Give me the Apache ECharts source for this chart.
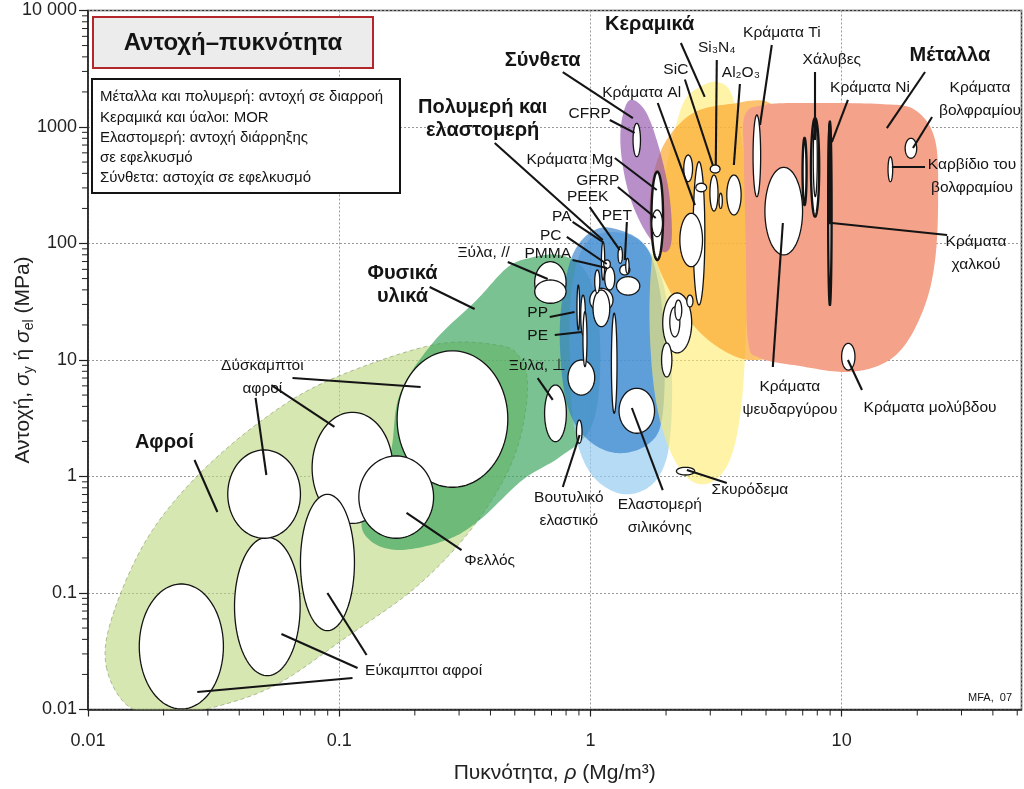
<!DOCTYPE html>
<html><head><meta charset="utf-8">
<script src="https://cdn.jsdelivr.net/npm/echarts@6/dist/echarts.min.js"></script>
<style>html,body{margin:0;padding:0;background:#fff}#c{width:1024px;height:789px}</style>
</head><body><div id="c"></div>
<script>
// ---------------- DATA ----------------
const X_RANGE = [0.01, 52];          // density, Mg/m3
const Y_RANGE = [0.01, 10000];       // strength, MPa
const xTickLabels = ['0.01', '0.1', '1', '10'];
const yTickLabels = ['0.01', '0.1', '1', '10', '100', '1000', '10 000'];
const minorSteps = [2, 3, 4, 5, 6, 7, 8, 9];

// Material property bubbles: [name, rho_min, rho_max, sigma_min, sigma_max]
const foamBubbles = [
  ['Εύκαμπτοι αφροί 1', 0.0160, 0.0346, 0.0101, 0.1195],
  ['Εύκαμπτοι αφροί 2', 0.0383, 0.0699, 0.0195, 0.301],
  ['Δύσκαμπτοι αφροί 1', 0.036, 0.0701, 0.295, 1.69],
  ['Δύσκαμπτοι αφροί 2', 0.078, 0.1635, 0.396, 3.56],
  ['Εύκαμπτοι αφροί 3', 0.0701, 0.115, 0.0475, 0.703],
  ['Δύσκαμπτοι αφροί 3', 0.170, 0.469, 0.808, 12.0],
  ['Φελλός', 0.1197, 0.2375, 0.295, 1.50]
];
const naturalBubbles = [
  ['Ξύλα, //', 0.60, 0.80, 30.7, 69.8],
  ['Ξύλα, // (b)', 0.60, 0.80, 30.7, 48.6],
  ['Ξύλα, ⊥', 0.657, 0.802, 1.99, 6.1]
];
const polymerBubbles = [
  ['EVA', 0.814, 1.04, 5.0, 10.0],
  ['PP', 0.884, 0.906, 18.1, 44],
  ['PE', 0.915, 0.955, 16.4, 36.1],
  ['LDPE', 0.934, 0.969, 8.76, 26],
  ['ABS', 0.994, 1.23, 26, 41.3],
  ['PS', 1.024, 1.194, 19.3, 39.9],
  ['PC', 1.04, 1.09, 37.6, 59.3],
  ['PU', 1.14, 1.25, 39.9, 63.2],
  ['PA', 1.106, 1.14, 48.6, 103.6],
  ['PMMA', 1.13, 1.20, 61.2, 72.2],
  ['PTFE', 1.27, 1.572, 36.1, 51.9],
  ['Epoxy', 1.309, 1.435, 53.7, 65.4],
  ['PEEK', 1.288, 1.341, 67.6, 93.9],
  ['PET', 1.382, 1.425, 55.5, 74.6],
  ['Ionomer', 1.212, 1.276, 3.49, 25.2]
];
const elastomerBubbles = [
  ['Βουτυλικό ελαστικό', 0.88, 0.926, 1.93, 3.05],
  ['Ελαστομερή σιλικόνης', 1.30, 1.80, 2.35, 5.72]
];
const compositeBubbles = [
  ['CFRP', 1.478, 1.582, 556, 1076],
  ['Κράματα Mg', 1.75, 1.946, 72.2, 413],
  ['GFRP', 1.755, 1.936, 114.4, 194]
];
const ceramicBubbles = [
  ['Ύαλος', 1.94, 2.53, 11.5, 37.6],
  ['Ύαλος b', 2.07, 2.27, 15.8, 28.5],
  ['Ύαλος c', 2.17, 2.31, 22.0, 32.7],
  ['Πέτρα', 1.92, 2.11, 7.15, 14.0],
  ['Τούβλο', 2.42, 2.56, 28.5, 36.1],
  ['Σκυρόδεμα', 2.20, 2.60, 1.03, 1.20],
  ['Κράματα Al', 2.564, 2.854, 29.7, 504],
  ['B4C', 2.353, 2.55, 339, 575],
  ['AlN', 2.628, 2.90, 278, 329],
  ['Χυτά Al', 2.27, 2.794, 63.2, 181.6],
  ['SiC', 2.99, 3.22, 190, 387],
  ['Si3N4', 3.0, 3.28, 403, 472],
  ['Al2O3', 3.49, 3.98, 176, 387],
  ['ZrO2', 3.25, 3.35, 200, 270]
];
const metalBubbles = [
  ['Κράματα Ti', 4.44, 4.76, 252, 1268],
  ['Κράματα ψευδαργύρου', 4.95, 6.99, 79.7, 451],
  ['Χυτοσίδηρος', 6.99, 7.25, 214, 805],
  ['Χάλυβες', 7.55, 8.14, 170, 1195],
  ['Χάλυβες (b)', 7.71, 8.0, 252, 1148],
  ['Κράματα χαλκού', 8.84, 9.12, 29.7, 1111],
  ['Κράματα Ni', 8.88, 9.05, 150, 1050],
  ['Κράματα μολύβδου', 10.0, 11.3, 8.2, 13.9],
  ['Καρβίδιο του βολφραμίου', 15.3, 15.97, 339, 556],
  ['Κράματα βολφραμίου', 17.9, 19.9, 539, 800]
];

// Family envelopes: outline control points as [log10(rho), log10(sigma)]
const foamEnvelope = [[-1.927,-1.635],[-1.835,-1.979],[-1.664,-2.030],[-1.465,-1.961],[-1.238,-1.773],[-0.971,-1.378],[-0.708,-0.974],[-0.509,-0.545],[-0.361,-0.090],[-0.282,0.313],[-0.250,0.768],[-0.282,1.026],[-0.373,1.129],[-0.628,1.129],[-1.039,0.828],[-1.306,0.485],[-1.569,-0.004],[-1.768,-0.545],[-1.904,-1.206]];
const naturalEnvelope = [[-0.453,1.515],[-0.628,1.146],[-0.760,0.700],[-0.800,0.167],[-0.907,-0.330],[-0.879,-0.545],[-0.760,-0.631],[-0.573,-0.545],[-0.441,-0.373],[-0.270,-0.030],[-0.122,0.167],[-0.003,0.399],[0.037,0.828],[0.029,1.429],[-0.023,1.773],[-0.122,1.901],[-0.242,1.876],[-0.333,1.790]];
const elastomerEnvelope = [[0.085,2.099],[-0.023,1.987],[-0.075,1.601],[-0.082,1.000],[-0.063,0.399],[-0.003,0.039],[0.097,-0.133],[0.196,-0.133],[0.276,0.013],[0.316,0.313],[0.324,0.914],[0.296,1.601],[0.216,1.987]];
const polymerEnvelope = [[0.085,2.133],[-0.003,2.090],[-0.071,1.901],[-0.110,1.558],[-0.122,1.172],[-0.102,0.700],[-0.051,0.416],[0.037,0.245],[0.137,0.202],[0.236,0.288],[0.284,0.485],[0.296,1.000],[0.276,1.601],[0.216,1.987]];
const ceramicEnvelope = [[0.503,3.386],[0.435,3.343],[0.376,3.232],[0.336,2.974],[0.284,2.459],[0.244,1.858],[0.236,1.258],[0.260,0.657],[0.316,0.227],[0.396,-0.030],[0.483,-0.047],[0.555,0.142],[0.599,0.571],[0.619,1.258],[0.623,2.116],[0.607,2.803],[0.563,3.275]];
const techCeramicEnvelope = [[0.236,2.373],[0.260,2.674],[0.316,2.931],[0.416,3.129],[0.555,3.197],[0.714,3.206],[0.794,2.888],[0.802,1.858],[0.746,1.129],[0.635,1.000],[0.495,1.129],[0.376,1.386],[0.284,1.730],[0.240,2.030]];
const metalEnvelope = [[0.615,3.103],[0.694,3.189],[0.834,3.206],[1.153,3.197],[1.292,3.146],[1.372,2.888],[1.384,2.373],[1.372,1.858],[1.332,1.472],[1.252,1.129],[1.153,0.957],[1.013,0.897],[0.834,0.948],[0.675,1.017],[0.627,1.172],[0.619,1.944],[0.611,2.717]];
const compositeEnvelope = [[0.157,3.232],[0.125,3.060],[0.121,2.803],[0.149,2.459],[0.204,2.159],[0.276,1.944],[0.316,1.961],[0.324,2.159],[0.308,2.502],[0.264,2.888],[0.216,3.146]];

// Annotations: text and anchor as [log10(rho), log10(sigma)]
const familyLabels = [
  ['Αφροί', -1.696, 0.288],
  ['Φυσικά\nυλικά', -0.748, 1.648],
  ['Πολυμερή και\nελαστομερή', -0.429, 3.069],
  ['Σύνθετα', -0.190, 3.567],
  ['Κεραμικά', 0.236, 3.876],
  ['Μέταλλα', 1.431, 3.618]
];
const materialLabels = [
  ['Δύσκαμπτοι\nαφροί', -1.306, 0.854],
  ['Εύκαμπτοι αφροί', -0.664, -1.670],
  ['Φελλός', -0.401, -0.725],
  ['Ξύλα, //', -0.425, 1.918],
  ['PMMA', -0.170, 1.910],
  ['PC', -0.158, 2.064],
  ['PA', -0.114, 2.227],
  ['PEEK', -0.011, 2.399],
  ['PET', 0.105, 2.236],
  ['GFRP', 0.029, 2.536],
  ['Κράματα Mg', -0.082, 2.717],
  ['CFRP', -0.003, 3.112],
  ['Κράματα Al', 0.204, 3.292],
  ['SiC', 0.340, 3.489],
  ['Si₃N₄', 0.503, 3.678],
  ['Al₂O₃', 0.599, 3.464],
  ['Κράματα Ti', 0.762, 3.807],
  ['Χάλυβες', 0.961, 3.575],
  ['Κράματα Ni', 1.113, 3.335],
  ['Κράματα\nβολφραμίου', 1.551, 3.240],
  ['Καρβίδιο του\nβολφραμίου', 1.519, 2.575],
  ['Κράματα\nχαλκού', 1.535, 1.918],
  ['PP', -0.210, 1.403],
  ['PE', -0.210, 1.206],
  ['Ξύλα, ⊥', -0.210, 0.948],
  ['Κράματα\nψευδαργύρου', 0.794, 0.670],
  ['Κράματα μολύβδου', 1.352, 0.588],
  ['Σκυρόδεμα', 0.635, -0.116],
  ['Βουτυλικό\nελαστικό', -0.086, -0.283],
  ['Ελαστομερή\nσιλικόνης', 0.276, -0.343]
];
const creditLabel = ['MFA,  07', 1.591, -1.901];
// Leader lines: [[log10 rho1, log10 sigma1], [log10 rho2, log10 sigma2]]
const leaderLines = [
  [[-1.576,0.142],[-1.485,-0.305]],
  [[-1.186,0.845],[-0.676,0.768]],
  [[-1.270,0.785],[-1.019,0.425]],
  [[-1.333,0.674],[-1.290,0.013]],
  [[-0.947,-1.730],[-1.565,-1.850]],
  [[-0.927,-1.644],[-1.230,-1.352]],
  [[-0.891,-1.532],[-1.047,-1.000]],
  [[-0.513,-0.631],[-0.732,-0.313]],
  [[-0.640,1.627],[-0.461,1.438]],
  [[-0.329,1.841],[-0.170,1.695]],
  [[-0.162,1.369],[-0.063,1.412]],
  [[-0.142,1.215],[-0.035,1.240]],
  [[-0.210,0.845],[-0.150,0.657]],
  [[-0.110,-0.090],[-0.043,0.356]],
  [[0.288,-0.116],[0.165,0.588]],
  [[0.384,0.056],[0.543,-0.056]],
  [[-0.071,1.858],[0.065,1.790]],
  [[-0.094,2.056],[0.065,1.824]],
  [[-0.071,2.185],[0.049,2.013]],
  [[-0.003,2.313],[0.117,1.944]],
  [[0.145,2.185],[0.137,1.858]],
  [[0.109,2.485],[0.260,2.219]],
  [[0.097,2.734],[0.264,2.459]],
  [[-0.381,2.863],[0.049,2.030]],
  [[0.077,3.060],[0.176,2.949]],
  [[-0.110,3.472],[0.169,3.077]],
  [[0.360,3.721],[0.455,3.258]],
  [[0.376,3.408],[0.487,2.674]],
  [[0.503,3.575],[0.499,2.674]],
  [[0.595,3.369],[0.571,2.674]],
  [[0.268,3.206],[0.416,2.330]],
  [[0.722,3.704],[0.675,3.017]],
  [[0.894,3.472],[0.894,2.888]],
  [[1.025,3.232],[0.961,2.871]],
  [[1.332,3.472],[1.180,2.991]],
  [[1.360,3.086],[1.284,2.820]],
  [[1.200,2.657],[1.332,2.657]],
  [[0.961,2.176],[1.420,2.073]],
  [[0.766,2.176],[0.726,0.940]],
  [[1.025,1.000],[1.081,0.742]]
];
const noteLines = [
  'Μέταλλα και πολυμερή: αντοχή σε διαρροή',
  'Κεραμικά και ύαλοι: MOR',
  'Ελαστομερή: αντοχή διάρρηξης',
  'σε εφελκυσμό',
  'Σύνθετα: αστοχία σε εφελκυσμό'
];
const chartTitle = 'Αντοχή–πυκνότητα';

// ---------------- STYLE ----------------
const FONT = '"Liberation Sans", Arial, sans-serif';
const INK = '#141414';
const envelopes = [
  { pts: foamEnvelope, fill: 'rgba(190,216,130,0.62)', stroke: 'rgba(120,140,90,0.55)', dash: [4, 3] },
  { pts: naturalEnvelope, fill: 'rgba(60,165,95,0.68)' },
  { pts: elastomerEnvelope, fill: 'rgba(150,205,240,0.7)' },
  { pts: polymerEnvelope, fill: 'rgba(40,120,200,0.62)' },
  { pts: ceramicEnvelope, fill: 'rgba(255,235,110,0.6)' },
  { pts: techCeramicEnvelope, fill: 'rgba(250,165,40,0.68)' },
  { pts: metalEnvelope, fill: 'rgb(244,162,138)' },
  { pts: compositeEnvelope, fill: 'rgba(150,90,175,0.68)' }
];
const thickOutline = new Set(['Κράματα Mg', 'Χάλυβες', 'Κράματα χαλκού', 'Κράματα Ni', 'Χυτοσίδηρος']);

const toData = p => [Math.pow(10, p[0]), Math.pow(10, p[1])];

function smoothClosed(pts, n) {
  const out = [], m = pts.length;
  for (let i = 0; i < m; i++) {
    const p0 = pts[(i - 1 + m) % m], p1 = pts[i], p2 = pts[(i + 1) % m], p3 = pts[(i + 2) % m];
    for (let k = 0; k < n; k++) {
      const t = k / n, t2 = t * t, t3 = t2 * t;
      out.push([0, 1].map(d => 0.5 * (2 * p1[d] + (-p0[d] + p2[d]) * t +
        (2 * p0[d] - 5 * p1[d] + 4 * p2[d] - p3[d]) * t2 +
        (-p0[d] + 3 * p1[d] - 3 * p2[d] + p3[d]) * t3)));
    }
  }
  return out;
}

const envelopeSeries = {
  type: 'custom', coordinateSystem: 'cartesian2d', clip: true, silent: true, z: 2,
  data: envelopes.map((e, i) => [1, 1, i]), encode: { x: 0, y: 1 },
  renderItem: (params, api) => {
    const e = envelopes[params.dataIndex];
    const px = e.pts.map(p => api.coord(toData(p)));
    return { type: 'polygon', shape: { points: smoothClosed(px, 14) },
      style: { fill: e.fill, stroke: e.stroke || null, lineWidth: 1, lineDash: e.dash || null } };
  }
};

function bubbleSeries(list) {
  return {
    type: 'custom', coordinateSystem: 'cartesian2d', clip: true, silent: true, z: 3,
    data: list.map(b => [b[1], b[2], b[3], b[4]]), encode: { x: [0, 1], y: [2, 3] },
    renderItem: (params, api) => {
      const b = list[params.dataIndex];
      const a = api.coord([b[1], b[4]]), c = api.coord([b[2], b[3]]);
      const cx = (a[0] + c[0]) / 2, cy = (a[1] + c[1]) / 2;
      const rx = Math.abs(c[0] - a[0]) / 2, ry = Math.abs(c[1] - a[1]) / 2;
      const pts = [];
      for (let k = 0; k < 90; k++) { const t = k / 90 * Math.PI * 2; pts.push([cx + rx * Math.cos(t), cy + ry * Math.sin(t)]); }
      return { type: 'polygon', shape: { points: pts },
        style: { fill: '#ffffff', stroke: INK, lineWidth: thickOutline.has(b[0]) ? 2.4 : 1.3 } };
    }
  };
}

const leaderSeries = {
  type: 'custom', coordinateSystem: 'cartesian2d', silent: true, z: 4,
  data: leaderLines.map(() => [1, 1]), encode: { x: 0, y: 1 },
  renderItem: (params, api) => {
    const l = leaderLines[params.dataIndex];
    const p = api.coord(toData(l[0])), q = api.coord(toData(l[1]));
    return { type: 'line', shape: { x1: p[0], y1: p[1], x2: q[0], y2: q[1] }, style: { stroke: INK, lineWidth: 2.1 } };
  }
};

function labelSeries(list, font, lh) {
  return {
    type: 'custom', coordinateSystem: 'cartesian2d', silent: true, z: 5,
    data: list.map(() => [1, 1]), encode: { x: 0, y: 1 },
    renderItem: (params, api) => {
      const l = list[params.dataIndex];
      const p = api.coord(toData([l[1], l[2]]));
      return { type: 'text', x: p[0], y: p[1],
        style: { text: l[0], font: font, fill: INK, align: 'center', verticalAlign: 'middle', lineHeight: lh } };
    }
  };
}

// minor ticks (log axes)
const xMinor = [], yMinor = [];
for (let k = -2; k <= 1; k++) minorSteps.forEach(m => { const v = m * Math.pow(10, k); if (v < X_RANGE[1]) xMinor.push(v); });
for (let k = -2; k <= 3; k++) minorSteps.forEach(m => yMinor.push(m * Math.pow(10, k)));
const minorTickSeries = {
  type: 'custom', coordinateSystem: 'cartesian2d', silent: true, clip: false, z: 6,
  data: xMinor.map(v => [v, Y_RANGE[0], 0]).concat(yMinor.map(v => [X_RANGE[0], v, 1])), encode: { x: 0, y: 1 },
  renderItem: (params, api) => {
    const p = api.coord([api.value(0), api.value(1)]);
    const isY = api.value(2) === 1;
    const shape = isY ? { x1: p[0] - 6, y1: p[1], x2: p[0], y2: p[1] } : { x1: p[0], y1: p[1], x2: p[0], y2: p[1] + 6 };
    return { type: 'line', shape, style: { stroke: '#222', lineWidth: 1 } };
  }
};

function tickLabel(v, labels) {
  const l = Math.log10(v), k = Math.round(l);
  if (Math.abs(l - k) > 1e-6) return '';
  return labels[k + 2] || '';
}

const chart = echarts.init(document.getElementById('c'), null, { renderer: 'canvas' });
chart.setOption({
  animation: false,
  backgroundColor: '#ffffff',
  grid: { left: 88, right: 2.5, top: 10.5, bottom: 79.5, containLabel: false, outerBoundsMode: 'none',
    show: true, borderColor: '#333', borderWidth: 1.5, backgroundColor: '#fff' },
  xAxis: {
    type: 'log', logBase: 10, min: X_RANGE[0], max: X_RANGE[1],
    axisLine: { lineStyle: { color: '#222', width: 1.5 } },
    axisTick: { length: 7, lineStyle: { color: '#222', width: 1.2 } },
    axisLabel: { formatter: v => tickLabel(v, xTickLabels), color: '#222', fontFamily: FONT, fontSize: 18, margin: 23, showMaxLabel: false },
    splitLine: { show: true, lineStyle: { color: '#999', type: [2, 2], width: 1 } },
    name: '{n|Πυκνότητα, }{i|ρ}{n| (Mg/m³)}', nameLocation: 'middle', nameGap: 53, nameMoveOverlap: false,
    nameTextStyle: { rich: {
      n: { fontFamily: FONT, fontSize: 21, color: '#222' },
      i: { fontFamily: FONT, fontSize: 21, fontStyle: 'italic', color: '#222' } } }
  },
  yAxis: {
    type: 'log', logBase: 10, min: Y_RANGE[0], max: Y_RANGE[1],
    axisLine: { lineStyle: { color: '#222', width: 1.5 } },
    axisTick: { length: 9, lineStyle: { color: '#222', width: 1.2 } },
    axisLabel: { formatter: v => tickLabel(v, yTickLabels), color: '#222', fontFamily: FONT, fontSize: 18, margin: 11 },
    splitLine: { show: true, lineStyle: { color: '#999', type: [2, 2], width: 1 } },
    name: '{n|Αντοχή, }{i|σ}{s|y}{n| ή }{i|σ}{s|el}{n| (MPa)}', nameLocation: 'middle', nameGap: 52, nameRotate: 90, nameMoveOverlap: false,
    nameTextStyle: { rich: {
      n: { fontFamily: FONT, fontSize: 21, color: '#222', lineHeight: 26 },
      i: { fontFamily: FONT, fontSize: 21, fontStyle: 'italic', color: '#222', lineHeight: 26 },
      s: { fontFamily: FONT, fontSize: 14, color: '#222', lineHeight: 14, verticalAlign: 'bottom' } } }
  },
  graphic: [
    { type: 'rect', z: 100, shape: { x: 93, y: 17, width: 280, height: 51 }, style: { fill: '#ececec', stroke: '#b3262c', lineWidth: 2 } },
    { type: 'text', z: 101, x: 233, y: 43, style: { text: chartTitle, font: 'bold 24px ' + FONT, fill: INK, align: 'center', verticalAlign: 'middle', textAlign: 'center', textVerticalAlign: 'middle' } },
    { type: 'rect', z: 100, shape: { x: 92, y: 79, width: 308, height: 114 }, style: { fill: '#ffffff', stroke: INK, lineWidth: 2 } },
    { type: 'text', z: 101, x: 100, y: 87, style: { text: noteLines.join('\n'), font: '15px ' + FONT, fill: INK, lineHeight: 20.3, align: 'left', verticalAlign: 'top', textAlign: 'left', textVerticalAlign: 'top' } }
  ],
  series: [
    envelopeSeries,
    bubbleSeries(foamBubbles),
    bubbleSeries(naturalBubbles),
    bubbleSeries(elastomerBubbles),
    bubbleSeries(polymerBubbles),
    bubbleSeries(ceramicBubbles),
    bubbleSeries(compositeBubbles),
    bubbleSeries(metalBubbles),
    leaderSeries,
    labelSeries(familyLabels, 'bold 20px ' + FONT, 23),
    labelSeries(materialLabels, '15.5px ' + FONT, 23),
    labelSeries([creditLabel], '11px ' + FONT, 13),
    minorTickSeries
  ]
});
</script>
</body></html>
